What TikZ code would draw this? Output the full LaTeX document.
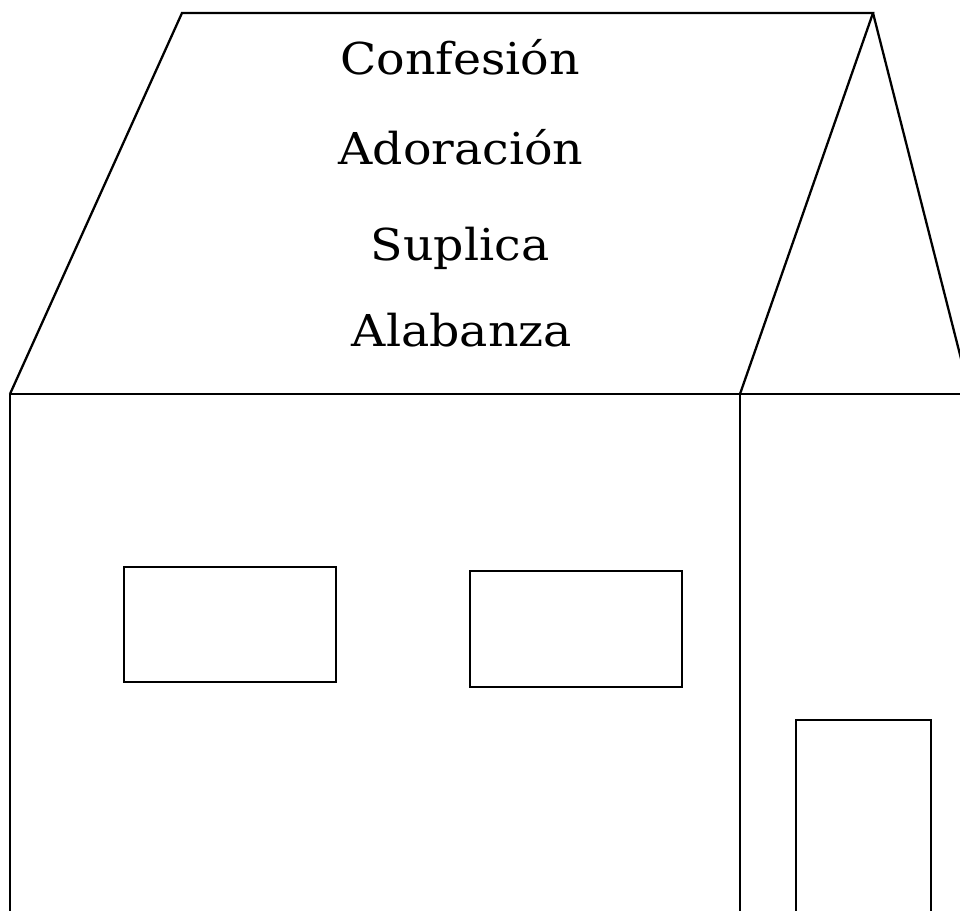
\documentclass[tikz,border=0pt]{standalone}
\usepackage{fontspec}
\usepackage{tikz}
\newfontfamily\roofface[FakeStretch=1.08]{DejaVu Serif}

\begin{document}
\begin{tikzpicture}[x=0.02cm,y=-0.02cm,line width=1.3pt,
    roofword/.style={font=\roofface\fontsize{25}{30}\selectfont,inner sep=0pt,anchor=base}]
  \useasboundingbox (0,0) rectangle (960,911);
  \clip (0,0) rectangle (960,911);
  % roof
  \draw (10,394) -- (182,13) -- (873,13) -- (740,394);
  \draw (873,13) -- (970,394);
  \draw (10,394) -- (970,394);
  % walls
  \draw (10,394) -- (10,930);
  \draw (740,394) -- (740,930);
  % windows and door
  \draw (124,567) rectangle (336,682);
  \draw (470,571) rectangle (682,687);
  \draw (796,930) -- (796,720) -- (931,720) -- (931,930);
  % words on the roof
  \node[roofword] (confesion) at (460,75) {Confesión};
  \node[roofword] (adoracion) at (461,165) {Adoración};
  \node[roofword] (suplica) at (460,261) {Suplica};
  \node[roofword] (alabanza) at (462,347) {Alabanza};
\end{tikzpicture}
\end{document}
